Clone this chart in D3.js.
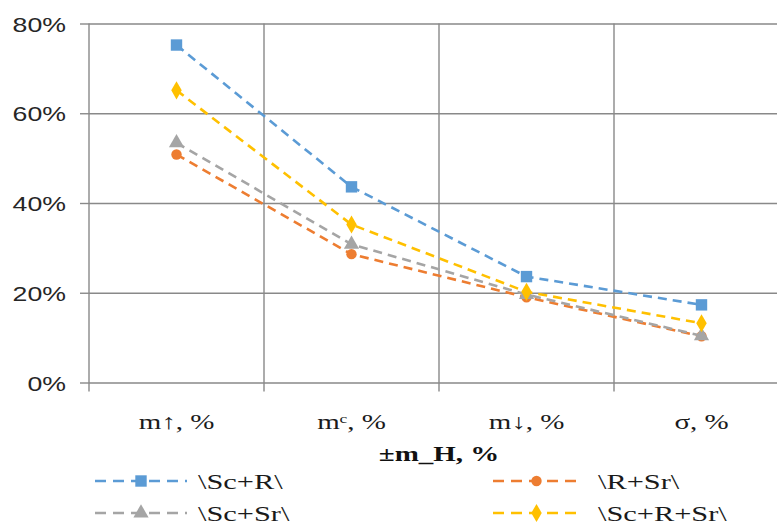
<!DOCTYPE html>
<html>
<head>
<meta charset="utf-8">
<script src="https://cdn.jsdelivr.net/npm/d3@7"></script>
<style>
  html, body { margin: 0; padding: 0; background: #fff; }
  svg { display: block; overflow: hidden; }
</style>
</head>
<body>
<svg id="chart" width="777" height="526"></svg>
<script>
// Categories along the x axis
const categories = ["m\u2191, %", "m\u1D9C, %", "m\u2193, %", "\u03C3, %"];
// Series names (legend order)
const seriesNames = ["\\Sc+R\\", "\\R+Sr\\", "\\Sc+Sr\\", "\\Sc+R+Sr\\"];
// Values per series, in percent
const scR    = [75.2, 43.6, 23.6, 17.3];
const rSr    = [50.8, 28.6, 19.0, 10.3];
const scSr   = [53.4, 30.8, 19.6, 10.4];
const scRSr  = [65.1, 35.2, 20.2, 13.2];
// Y tick values, in percent
const yTicks = [0, 20, 40, 60, 80];
const xTitle = "\u00B1m_H, %";

const colors  = ["#5B9BD5", "#ED7D31", "#A5A5A5", "#FFC000"];
const symbols = [d3.symbolSquare, d3.symbolCircle, d3.symbolTriangle, d3.symbolDiamond];
const symSize = [130, 85, 100, 95];
const seriesValues = [scR, rSr, scSr, scRSr];

const svg = d3.select("#chart");
const sx = 1.38;            // horizontal stretch of glyphs
const gridColor = "#898989";

const plot = { left: 89, right: 789, top: 23.5, bottom: 382.5 };

const x = d3.scaleBand().domain(categories).range([plot.left, plot.right]).padding(0);
const y = d3.scaleLinear().domain([0, 80]).range([plot.bottom, plot.top]);
const cx = c => x(c) + x.bandwidth() / 2;

// Horizontal gridlines with left tick marks
svg.append("g")
  .attr("transform", `translate(${plot.left},0)`)
  .call(d3.axisLeft(y).tickValues(yTicks).tickSize(9).tickFormat(""))
  .call(g => g.select(".domain").remove())
  .call(g => g.selectAll(".tick line").attr("stroke", gridColor).attr("stroke-width", 1.4))
  .call(g => g.selectAll(".tick").append("line")
      .attr("x1", 0).attr("x2", plot.right - plot.left)
      .attr("stroke", gridColor).attr("stroke-width", 1.4));

// Vertical gridlines at category boundaries, extending below the axis as ticks
const bounds = categories.map(c => x(c)).concat([plot.right]);
svg.append("g").selectAll("line").data(bounds).join("line")
  .attr("x1", d => d).attr("x2", d => d)
  .attr("y1", plot.top).attr("y2", plot.bottom + 9)
  .attr("stroke", gridColor).attr("stroke-width", 1.4);

// Y tick labels
svg.append("g").selectAll("text").data(yTicks).join("text")
  .attr("transform", d => `translate(66,${y(d) + 8}) scale(1.27,1)`)
  .attr("text-anchor", "end")
  .attr("font-family", "'Liberation Sans', Arial, sans-serif")
  .attr("font-size", 21)
  .attr("fill", "#262626")
  .text(d => d + "%");

// Category labels
svg.append("g").selectAll("text").data(categories).join("text")
  .attr("transform", d => `translate(${cx(d)},429) scale(${sx},1)`)
  .attr("text-anchor", "middle")
  .attr("font-family", "'Liberation Serif', 'Times New Roman', serif")
  .attr("font-size", 21)
  .attr("fill", "#1a1a1a")
  .text(d => d);

// Axis title
svg.append("text")
  .attr("transform", `translate(${(plot.left + plot.right) / 2},461) scale(${sx},1)`)
  .attr("text-anchor", "middle")
  .attr("font-family", "'Liberation Serif', 'Times New Roman', serif")
  .attr("font-weight", "bold")
  .attr("font-size", 21)
  .attr("fill", "#111")
  .text(xTitle);

// Series lines and markers
const line = d3.line().x((d, i) => cx(categories[i])).y(d => y(d));
seriesValues.forEach((vals, s) => {
  const g = svg.append("g");
  g.append("path")
    .attr("d", line(vals))
    .attr("fill", "none")
    .attr("stroke", colors[s])
    .attr("stroke-width", 2.6)
    .attr("stroke-dasharray", "9,6");
  g.selectAll("path.m").data(vals).join("path")
    .attr("class", "m")
    .attr("transform", (d, i) => `translate(${cx(categories[i])},${y(d)})`)
    .attr("d", d3.symbol().type(symbols[s]).size(symSize[s]))
    .attr("fill", colors[s]);
});

// Legend: two columns, two rows
const legendPos = [
  { x0: 95, x1: 187, tx: 198, y: 481 },
  { x0: 493, x1: 580, tx: 598, y: 481 },
  { x0: 95, x1: 187, tx: 198, y: 513 },
  { x0: 493, x1: 580, tx: 598, y: 513 }
];
seriesNames.forEach((name, s) => {
  const p = legendPos[s];
  const g = svg.append("g");
  g.append("line")
    .attr("x1", p.x0).attr("x2", p.x1).attr("y1", p.y).attr("y2", p.y)
    .attr("stroke", colors[s]).attr("stroke-width", 2.6)
    .attr("stroke-dasharray", "11,7");
  g.append("path")
    .attr("transform", `translate(${(p.x0 + p.x1) / 2},${p.y})`)
    .attr("d", d3.symbol().type(symbols[s]).size(symSize[s]))
    .attr("fill", colors[s]);
  g.append("text")
    .attr("transform", `translate(${p.tx},${p.y + 8}) scale(${sx},1)`)
    .attr("font-family", "'Liberation Serif', 'Times New Roman', serif")
    .attr("font-size", 22)
    .attr("fill", "#1a1a1a")
    .text(name);
});
</script>
</body>
</html>
